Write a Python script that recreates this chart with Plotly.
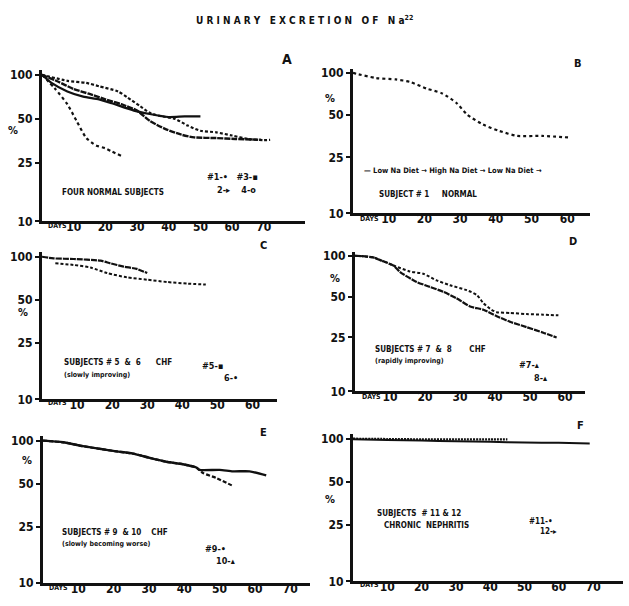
import plotly.graph_objects as go

W, H = 629, 606

# ---------------- data (days, percent of dose remaining) ----------------
# Panel A: four normal subjects
a1_days = [0, 4, 8, 11, 14, 17, 20, 22, 25]
a1_pct = [100, 81, 63, 48, 37, 33, 31.5, 30, 28]
a2_days = [0, 3, 8, 13, 18, 22, 29, 34, 40, 45, 50]
a2_pct = [100, 88, 77, 71, 68, 64, 57, 54, 51.5, 52, 52]
a3_days = [0, 8, 14, 18, 24, 27, 31, 34, 37, 42, 46, 50, 55, 60, 65, 70, 72]
a3_pct = [100, 91, 88, 83.5, 77, 70, 61, 55, 52.5, 50, 45, 41.5, 40.5, 38.5, 36.5, 35.8, 36]
a4_days = [0, 5, 10, 15, 20, 25, 30, 34, 39, 44, 48, 55, 61, 69]
a4_pct = [100, 90, 80, 74, 68, 63, 57, 48.5, 42.6, 39, 37.4, 37, 36.5, 36]

# Panel B: subject #1, normal, diet changes
b1_days = [0, 1, 6.5, 12, 16, 20.6, 25, 29, 32, 36.4, 41, 46, 53, 61]
b1_pct = [100, 98.4, 91.8, 89.8, 86.1, 77.3, 71.4, 61, 50.4, 42.9, 38.6, 35.6, 35.6, 34.6]

# Panel C: subjects #5 & #6, CHF slowly improving
c5_days = [0, 3.3, 9, 16.7, 19.5, 23.3, 27, 30]
c5_pct = [100, 97.4, 96.4, 93.8, 89.9, 85.3, 82.2, 76.8]
c6_days = [3.8, 9, 13.8, 18.6, 24.3, 30, 35.7, 41.4, 46.7]
c6_pct = [89.9, 87.6, 84, 76.8, 71.6, 69, 66.5, 64.8, 63.8]

# Panel D: subjects #7 & #8, CHF rapidly improving
d7_days = [0, 5.2, 7.6, 11, 15.7, 19.5, 23.3, 27.1, 31.9, 34.8, 36.7, 39, 40.5, 44.3, 49, 53.8, 58.1]
d7_pct = [100, 97.3, 92, 84.7, 76.6, 73.7, 65.9, 60.7, 55.8, 51.4, 44.7, 40, 38.4, 37.9, 37.2, 36.8, 36.4]
d8_days = [0, 5.2, 7.6, 11, 12.9, 17.6, 21.4, 25.2, 29, 32.9, 36.7, 40.5, 44.3, 49, 53.8, 57.6]
d8_pct = [100, 97.3, 92, 84.7, 75.8, 64.1, 59, 54.3, 48.6, 42.3, 40, 35.9, 32.6, 29.8, 27.1, 25]

# Panel E: subjects #9 & #10, CHF slowly becoming worse
e9_days = [0, 5.7, 11.3, 16, 20.8, 25.5, 30.2, 34.9, 39.6, 43.4, 44.3, 50, 53.8, 58.5, 63.2]
e9_pct = [100, 97.4, 91.5, 87.7, 84.1, 81.1, 75.8, 71.2, 68.3, 64.8, 62.4, 62.4, 60.9, 60.9, 57.1]
e10_days = [0, 5.7, 11.3, 16, 20.8, 25.5, 30.2, 34.9, 39.6, 43.4, 45.3, 49, 53.8]
e10_pct = [100, 97.4, 91.5, 87.7, 84.1, 81.1, 75.8, 71.2, 68.3, 64.8, 59.3, 54.8, 48.1]

# Panel F: subjects #11 & #12, chronic nephritis
f11_days = [0, 10, 20, 30, 40, 45]
f11_pct = [100, 99.5, 99, 99, 99, 99]
f12_days = [0, 10, 20, 30, 40, 50, 60, 69]
f12_pct = [99, 98, 97, 96, 95, 94, 93.5, 92.5]

y_ticks = [10, 25, 50, 100]
y_labels = ["10", "25", "50", "100"]
x_ticks_long = [10, 20, 30, 40, 50, 60, 70]
x_ticks_short = [10, 20, 30, 40, 50, 60]

# ---------------- layout helpers ----------------
FONT = "DejaVu Sans Condensed, DejaVu Sans, sans-serif"
INK = "#111111"


def px(x):
    return x / W


def py(y):
    return 1 - y / H


# panel geometry in pixels: x-axis start/end, day span, y pixel of 100 and 10
panels = [
    dict(x0=42, x1=305, xmax=83, y100=73, y10=222, ticks=x_ticks_long),
    dict(x0=353, x1=590, xmax=66.4, y100=71, y10=214, ticks=x_ticks_short),
    dict(x0=42, x1=277, xmax=67, y100=258, y10=403, ticks=x_ticks_short),
    dict(x0=355, x1=585, xmax=65.7, y100=257, y10=395, ticks=x_ticks_short),
    dict(x0=43, x1=310, xmax=75.6, y100=445, y10=590, ticks=x_ticks_long),
    dict(x0=353, x1=623, xmax=78.7, y100=443, y10=588, ticks=x_ticks_long),
]

fig = go.Figure()
EXT = 0.03
layout = {}
for i, p in enumerate(panels, start=1):
    sfx = "" if i == 1 else str(i)
    dec = p["y10"] - p["y100"]
    ytop = p["y100"] - EXT * dec
    layout["xaxis" + sfx] = dict(
        domain=[px(p["x0"]), px(p["x1"])], range=[0, p["xmax"]],
        anchor="y" + sfx, tickvals=p["ticks"], ticktext=[str(t) for t in p["ticks"]],
        showline=True, linewidth=3, linecolor=INK, ticks="", showgrid=False,
        zeroline=False, tickfont=dict(family=FONT, size=12, color=INK, weight="bold"),
        ticklabelstandoff=-8, fixedrange=True,
    )
    layout["yaxis" + sfx] = dict(
        domain=[py(p["y10"]), py(ytop)], type="log", range=[1, 2 + EXT],
        anchor="x" + sfx, tickvals=y_ticks, ticktext=y_labels,
        showline=True, linewidth=3, linecolor=INK, ticks="outside", ticklen=4,
        tickwidth=2, tickcolor=INK, showgrid=False, zeroline=False,
        tickfont=dict(family=FONT, size=12, color=INK, weight="bold"),
        ticklabelstandoff=0, fixedrange=True,
    )


def add(days, pct, panel, dash, width=2.0):
    sfx = "" if panel == 1 else str(panel)
    fig.add_trace(go.Scatter(
        x=days, y=pct, mode="lines", xaxis="x" + sfx, yaxis="y" + sfx,
        line=dict(color=INK, width=width, dash=dash, shape="spline", smoothing=0.6),
        showlegend=False, hoverinfo="skip",
    ))


add(a1_days, a1_pct, 1, "dot", 2.2)
add(a2_days, a2_pct, 1, "solid", 2.2)
add(a3_days, a3_pct, 1, "3px,2px", 2.2)
add(a4_days, a4_pct, 1, "6px,1px", 2.4)
add(b1_days, b1_pct, 2, "dot", 2.2)
add(c5_days, c5_pct, 3, "6px,1px", 2.2)
add(c6_days, c6_pct, 3, "3px,2px", 2.0)
add(d7_days, d7_pct, 4, "3px,2px", 2.0)
add(d8_days, d8_pct, 4, "6px,1px", 2.2)
add(e9_days, e9_pct, 5, "solid", 2.4)
add(e10_days, e10_pct, 5, "4px,2px", 2.2)
add(f11_days, f11_pct, 6, "2px,1px", 2.2)
add(f12_days, f12_pct, 6, "solid", 2.0)

ann = []


def text(x, y, s, size=8, anchor="left"):
    ann.append(dict(
        x=px(x), y=py(y), xref="paper", yref="paper", text=s, showarrow=False,
        xanchor=anchor, yanchor="middle",
        font=dict(family=FONT, size=size, color=INK, weight="bold"),
    ))


# title
text(304, 17, "U R I N A R Y   E X C R E T I O N   O F   N a<sup>22</sup>", 10, "center")

# panel letters
for (x, y, s) in [(287, 57, "A"), (578, 62, "B"), (263, 247, "C"),
                  (573, 242, "D"), (263, 437, "E"), (580, 430, "F")]:
    text(x, y, s, 14 if s == "A" else 11, "center")

# percent signs
for (x, y) in [(13, 130), (330, 97), (23, 315), (335, 280), (27, 465), (330, 505)]:
    text(x, y, "%", 11, "center")

# DAYS labels
for (x, y) in [(46, 227), (358, 220), (46, 407), (360, 401), (47, 595), (358, 592)]:
    text(x, y, "DAYS", 7, "left")

# panel texts
text(60, 193, "FOUR NORMAL SUBJECTS", 8)
text(205, 177, "#1-•   #3-▪", 9)
text(215, 190, "2-▸    4-o", 9)

text(362, 170, "— Low Na Diet → High Na Diet → Low Na Diet →", 7.5)
text(377, 195, "SUBJECT # 1     NORMAL", 8)

text(62, 366, "SUBJECTS # 5  &  6      CHF", 8)
text(62, 378, "(slowly improving)", 7)
text(200, 369, "#5-▪", 9)
text(222, 381, "6-•", 9)

text(373, 352, "SUBJECTS # 7  &  8       CHF", 8)
text(373, 364, "(rapidly improving)", 7)
text(517, 368, "#7-▴", 9)
text(532, 381, "8-▴", 9)

text(60, 538, "SUBJECTS # 9  & 10    CHF", 8)
text(60, 550, "(slowly becoming worse)", 7)
text(203, 555, "#9-•", 9)
text(214, 567, "10-▴", 9)

text(375, 519, "SUBJECTS  # 11 & 12", 8)
text(382, 531, "CHRONIC  NEPHRITIS", 8)
text(527, 527, "#11-•", 8)
text(538, 537, "12-▸", 8)

fig.update_layout(
    width=W, height=H, margin=dict(l=0, r=0, t=0, b=0),
    paper_bgcolor="white", plot_bgcolor="white",
    annotations=ann, showlegend=False, **layout,
)

fig.write_html(
    "out.html",
    config={"displayModeBar": False},
    post_script="document.body.style.margin='0';document.body.style.overflow='hidden';",
)
